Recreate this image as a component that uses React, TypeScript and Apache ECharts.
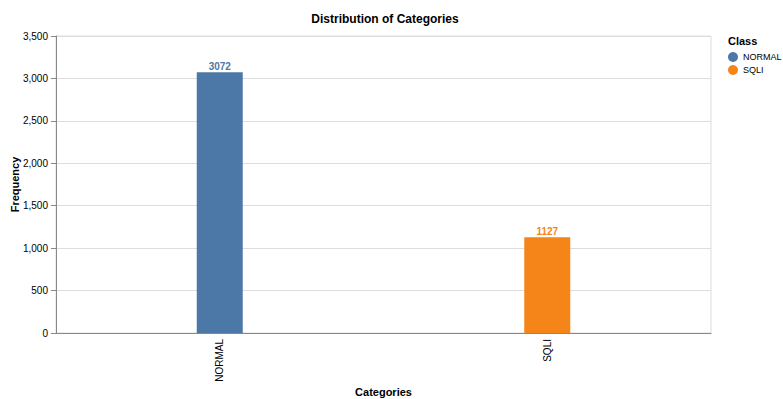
import React, { useEffect, useRef } from "react";
import * as echarts from "echarts";

const categories = ["NORMAL", "SQLI"];
const classes = ["NORMAL", "SQLI"];
const normalCounts = [3072, null];
const sqliCounts = [null, 1127];
const colors = ["#4c78a8", "#f58518"];

const FONT = "'Liberation Sans', Arial, sans-serif";

export default function App() {
  const ref = useRef<HTMLDivElement>(null);

  useEffect(() => {
    document.body.style.margin = "0";
    const chart = echarts.init(ref.current!, undefined, { renderer: "svg" });
    const seriesData = [normalCounts, sqliCounts];
    chart.setOption({
      animation: false,
      textStyle: { fontFamily: FONT },
      title: [
        {
          text: "Distribution of Categories",
          left: 380,
          top: 8,
          textAlign: "center",
          textStyle: { fontSize: 12, fontWeight: "bold", color: "#000", fontFamily: FONT },
        },
        {
          text: "Class",
          left: 723,
          top: 30,
          textStyle: { fontSize: 11, fontWeight: "bold", color: "#000", fontFamily: FONT },
        },
      ],
      legend: {
        orient: "vertical",
        left: 723,
        top: 47,
        icon: "circle",
        itemWidth: 10,
        itemHeight: 10,
        itemGap: 3,
        data: classes,
        textStyle: { fontSize: 9, color: "#000", fontFamily: FONT },
      },
      grid: {
        left: 56,
        right: 72,
        top: 36,
        bottom: 66,
        show: true,
        borderColor: "#ddd",
        borderWidth: 1,
        outerBoundsMode: "none",
      },
      xAxis: {
        type: "category",
        data: categories,
        name: "Categories",
        nameLocation: "middle",
        nameGap: 53,
        nameMoveOverlap: false,
        nameTextStyle: { fontSize: 11, fontWeight: "bold", color: "#000" },
        axisLine: { lineStyle: { color: "#888" } },
        axisTick: { alignWithLabel: true, length: 5, lineStyle: { color: "#888" } },
        axisLabel: { rotate: 90, fontSize: 10, color: "#000", margin: 6 },
      },
      yAxis: {
        type: "value",
        min: 0,
        max: 3500,
        interval: 500,
        name: "Frequency",
        nameLocation: "middle",
        nameGap: 36,
        nameMoveOverlap: false,
        nameRotate: 90,
        nameTextStyle: { fontSize: 11, fontWeight: "bold", color: "#000" },
        axisLine: { show: true, lineStyle: { color: "#888" } },
        axisTick: { show: true, length: 5, lineStyle: { color: "#888" } },
        axisLabel: {
          fontSize: 10,
          color: "#000",
          margin: 8,
          formatter: (v: number) => v.toLocaleString("en-US"),
        },
        splitLine: { lineStyle: { color: "#ddd" } },
      },
      series: classes.map((name, i) => ({
        name,
        type: "bar",
        data: seriesData[i],
        barWidth: 46,
        barGap: "-100%",
        itemStyle: { color: colors[i] },
        label: {
          show: true,
          position: "top",
          distance: 1,
          color: colors[i],
          fontSize: 10,
          fontWeight: "bold",
        },
      })),
    });
    return () => chart.dispose();
  }, []);

  return <div ref={ref} style={{ width: 783, height: 399 }} />;
}
